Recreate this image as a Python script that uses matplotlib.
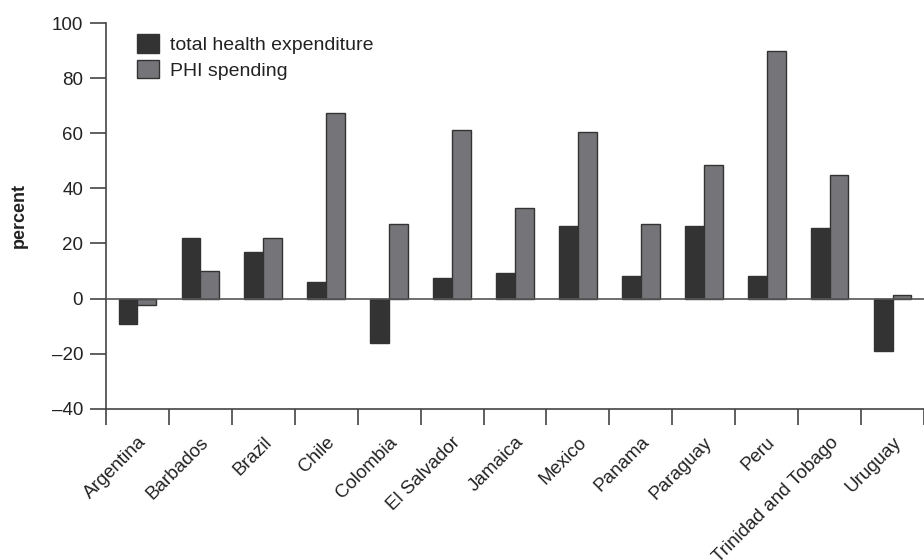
import numpy as np
import matplotlib
matplotlib.use('Agg')
import matplotlib.pyplot as plt

# data
countries = ['Argentina', 'Barbados', 'Brazil', 'Chile', 'Colombia', 'El Salvador',
             'Jamaica', 'Mexico', 'Panama', 'Paraguay', 'Peru',
             'Trinidad and Tobago', 'Uruguay']
total_health = [-9.1, 22.1, 16.8, 6.1, -16.3, 7.5, 9.4, 26.3, 8.1, 26.3, 8.1, 25.7, -19.1]
phi_spending = [-2.3, 10.1, 22.1, 67.2, 26.9, 61.2, 32.9, 60.5, 26.9, 48.4, 90.0, 45.0, 1.2]
yticks = [-40, -20, 0, 20, 40, 60, 80, 100]

plt.rcParams['font.family'] = ['Liberation Sans', 'DejaVu Sans']
W, H = 924, 560
fig = plt.figure(figsize=(W / 100, H / 100), dpi=100)
ax = fig.add_axes([106 / W, 1 - 408.7 / H, (W - 106) / W, (408.7 - 23) / H])

x = np.arange(len(countries)) + 0.5
bw = 0.3
dark = '#333333'
gray = '#757579'
ax.bar(x - bw / 2, total_health, bw, color=dark, edgecolor=dark, lw=1,
       label='total health expenditure', zorder=3)
ax.bar(x + bw / 2, phi_spending, bw, color=gray, edgecolor=dark, lw=1,
       label='PHI spending', zorder=3)
ax.axhline(0, color='#555555', lw=1.2, zorder=4)

ax.set_xlim(0, (W - 106) / 63.7)
ax.set_ylim(-40, 100)
ax.set_yticks(yticks)
ax.set_yticklabels([('\u2013' + str(-v)) if v < 0 else str(v) for v in yticks])
ax.set_xticks(x)
ax.set_xticklabels(countries, rotation=45, ha='right', rotation_mode='anchor')
ax.set_xticks(np.arange(len(countries) + 1), minor=True)
ax.tick_params(axis='x', which='major', length=0, pad=18, labelsize=13.5, labelcolor='#222222')
ax.tick_params(axis='x', which='minor', length=11.5, width=1.2, color='#444444')
ax.tick_params(axis='y', length=11.5, width=1.2, color='#444444', labelsize=13.5,
               labelcolor='#222222', pad=5)

for s in ['top', 'right']:
    ax.spines[s].set_visible(False)
for s in ['left', 'bottom']:
    ax.spines[s].set_color('#444444')
    ax.spines[s].set_linewidth(1.2)

ax.set_ylabel('percent', fontsize=13, fontweight='bold', color='#222222', labelpad=17)

ax.legend(loc='upper left', bbox_to_anchor=(137 / W, 1 - 34 / H),
          bbox_transform=fig.transFigure, frameon=False, fontsize=14,
          handlelength=1.15, handleheight=1.1, handletextpad=0.55,
          labelspacing=0.3, borderpad=0, borderaxespad=0, labelcolor='#222222')

fig.savefig('out.png', dpi=100)
